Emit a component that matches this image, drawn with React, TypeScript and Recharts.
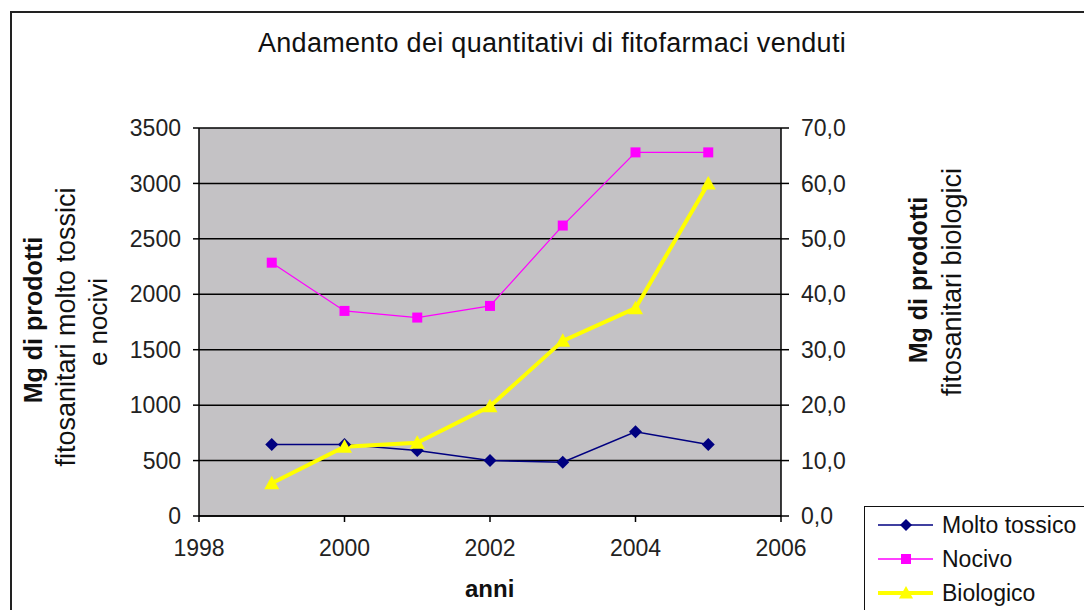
import React from "react";
import { LineChart, Line, XAxis, YAxis, CartesianGrid } from "recharts";

const years = [1999, 2000, 2001, 2002, 2003, 2004, 2005];
const moltoTossico = [645, 645, 590, 500, 485, 760, 645];
const nocivo = [2285, 1850, 1790, 1895, 2620, 3280, 3280];
const biologico = [5.9, 12.5, 13.2, 19.8, 31.6, 37.5, 60.0];

const xTicks = [1998, 2000, 2002, 2004, 2006];
const leftTicks = [0, 500, 1000, 1500, 2000, 2500, 3000, 3500];
const rightTicks = [0, 10, 20, 30, 40, 50, 60, 70];

const data = years.map((anno, i) => ({
  anno,
  molto: moltoTossico[i],
  nocivo: nocivo[i],
  bio: biologico[i],
}));

const FONT = "'Liberation Sans', Arial, sans-serif";
const NAVY = "#000080";
const MAGENTA = "#ff00ff";
const YELLOW = "#ffff00";

function diamond(cx: number, cy: number, r: number) {
  return `${cx},${cy - r} ${cx + r},${cy} ${cx},${cy + r} ${cx - r},${cy}`;
}
function triangle(cx: number, cy: number, r: number) {
  return `${cx},${cy - r} ${cx + r},${cy + r * 0.8} ${cx - r},${cy + r * 0.8}`;
}

const DiamondDot = (props: any) => {
  const { cx, cy, index } = props;
  if (cx == null || cy == null) return <g key={index} />;
  return <polygon key={index} points={diamond(cx, cy, 6.5)} fill={NAVY} />;
};
const SquareDot = (props: any) => {
  const { cx, cy, index } = props;
  if (cx == null || cy == null) return <g key={index} />;
  return <rect key={index} x={cx - 5} y={cy - 5} width={10} height={10} fill={MAGENTA} />;
};
const TriangleDot = (props: any) => {
  const { cx, cy, index } = props;
  if (cx == null || cy == null) return <g key={index} />;
  return <polygon key={index} points={triangle(cx, cy, 7.5)} fill={YELLOW} />;
};

const fmtRight = (v: number) => v.toFixed(1).replace(".", ",");

const rotated = (cx: number, cy: number, size: number, bold: boolean): React.CSSProperties => ({
  position: "absolute",
  left: cx,
  top: cy,
  transform: "translate(-50%, -50%) rotate(-90deg)",
  whiteSpace: "nowrap",
  fontSize: size,
  fontWeight: bold ? "bold" : "normal",
  color: "#111",
  lineHeight: 1,
});

const legendItems = [
  { name: "Molto tossico", color: NAVY, width: 1.5, kind: "diamond" },
  { name: "Nocivo", color: MAGENTA, width: 1.5, kind: "square" },
  { name: "Biologico", color: YELLOW, width: 4, kind: "triangle" },
];

export default function App() {
  return (
    <div
      style={{
        position: "absolute",
        left: 0,
        top: 0,
        width: 1084,
        height: 610,
        background: "#fff",
        overflow: "hidden",
        fontFamily: FONT,
      }}
    >
      <div
        style={{
          position: "absolute",
          left: 10,
          top: 11,
          width: 1100,
          height: 640,
          border: "2px solid #222",
        }}
      />
      <div
        style={{
          position: "absolute",
          left: 0,
          width: 1104,
          top: 30,
          textAlign: "center",
          fontSize: 27,
          letterSpacing: 0.3,
          color: "#111",
          lineHeight: 1,
        }}
      >
        Andamento dei quantitativi di fitofarmaci venduti
      </div>

      <LineChart
        width={1084}
        height={610}
        data={data}
        margin={{ top: 128, right: 0, left: 0, bottom: 0 }}
        style={{ position: "absolute", left: 0, top: 0, fontFamily: FONT }}
      >
        <CartesianGrid vertical={false} stroke="#000" strokeWidth={1.5} fill="#c4c2c5" fillOpacity={1} />
        <XAxis
          dataKey="anno"
          type="number"
          domain={[1998, 2006]}
          ticks={xTicks}
          interval={0}
          height={94}
          tickSize={6}
          tickMargin={18}
          axisLine={{ stroke: "#000", strokeWidth: 1.5 }}
          tickLine={{ stroke: "#000", strokeWidth: 1.5 }}
          tick={{ fill: "#222", fontSize: 23 }}
        />
        <YAxis
          domain={[0, 3500]}
          ticks={leftTicks}
          interval={0}
          width={199}
          tickSize={6}
          tickMargin={12}
          axisLine={{ stroke: "#000", strokeWidth: 1.5 }}
          tickLine={{ stroke: "#000", strokeWidth: 1.5 }}
          tick={{ fill: "#222", fontSize: 23 }}
        />
        <YAxis
          yAxisId="right"
          orientation="right"
          domain={[0, 70]}
          ticks={rightTicks}
          interval={0}
          width={303}
          tickSize={8}
          tickMargin={12}
          tickFormatter={fmtRight}
          axisLine={{ stroke: "#000", strokeWidth: 1.5 }}
          tickLine={{ stroke: "#000", strokeWidth: 1.5 }}
          tick={{ fill: "#222", fontSize: 23 }}
        />
        <Line
          type="linear"
          dataKey="molto"
          stroke={NAVY}
          strokeWidth={1.5}
          dot={DiamondDot}
          activeDot={false}
          isAnimationActive={false}
        />
        <Line
          type="linear"
          dataKey="nocivo"
          stroke={MAGENTA}
          strokeWidth={1.2}
          dot={SquareDot}
          activeDot={false}
          isAnimationActive={false}
        />
        <Line
          type="linear"
          dataKey="bio"
          yAxisId="right"
          stroke={YELLOW}
          strokeWidth={4}
          dot={TriangleDot}
          activeDot={false}
          isAnimationActive={false}
        />
      </LineChart>

      <div style={rotated(33, 320, 25, true)}>Mg di prodotti</div>
      <div style={rotated(66, 327, 27, false)}>fitosanitari molto tossici</div>
      <div style={rotated(98, 322, 26, false)}>e nocivi</div>

      <div style={rotated(918, 280, 25, true)}>Mg di prodotti</div>
      <div style={rotated(952, 282, 27, false)}>fitosanitari biologici</div>

      <div
        style={{
          position: "absolute",
          left: 465,
          top: 577,
          fontSize: 24,
          fontWeight: "bold",
          color: "#111",
          lineHeight: 1,
        }}
      >
        anni
      </div>

      <div
        style={{
          position: "absolute",
          left: 864,
          top: 506,
          width: 260,
          height: 140,
          border: "1.5px solid #111",
          background: "#fff",
        }}
      >
        {legendItems.map((it, i) => (
          <div
            key={it.name}
            style={{
              position: "absolute",
              left: 12,
              top: 18 + i * 34 - 14,
              height: 28,
              display: "flex",
              alignItems: "center",
              whiteSpace: "nowrap",
            }}
          >
            <svg width={58} height={28}>
              <line x1={1} y1={14} x2={56} y2={14} stroke={it.color} strokeWidth={it.width} />
              {it.kind === "diamond" && <polygon points={diamond(29, 14, 6)} fill={it.color} />}
              {it.kind === "square" && <rect x={24} y={9} width={10} height={10} fill={it.color} />}
              {it.kind === "triangle" && <polygon points={triangle(29, 14, 7)} fill={it.color} />}
            </svg>
            <span style={{ marginLeft: 7, fontSize: 23, color: "#111" }}>{it.name}</span>
          </div>
        ))}
      </div>
    </div>
  );
}
